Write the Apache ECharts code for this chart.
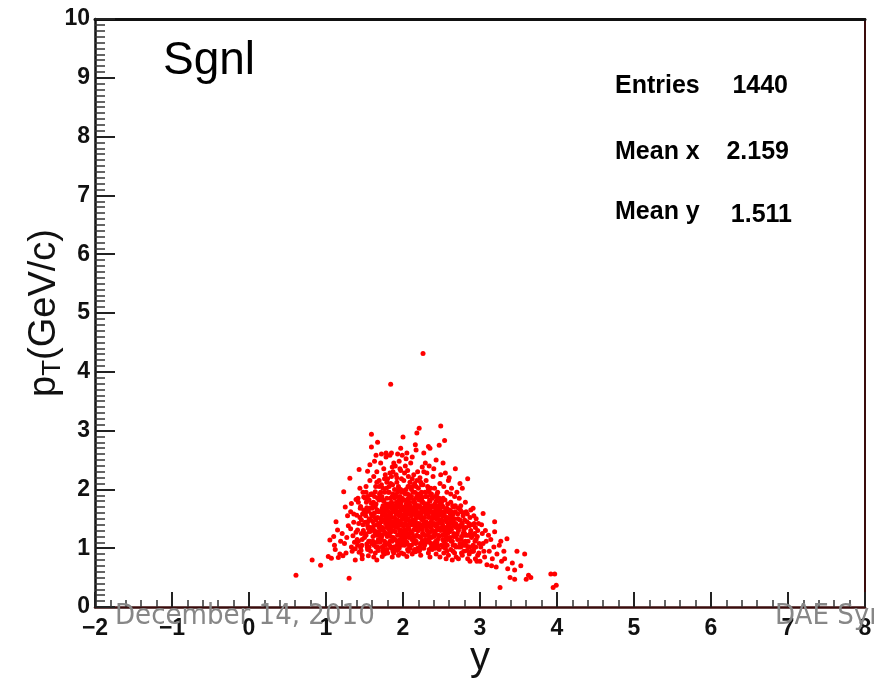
<!DOCTYPE html>
<html>
<head>
<meta charset="utf-8">
<script src="https://cdn.jsdelivr.net/npm/echarts@6/dist/echarts.min.js"></script>
<style>html,body{margin:0;padding:0;background:#fff;}#c{width:874px;height:682px;}</style>
</head>
<body>
<div id="c"></div>
<script>
// Axis ranges / ticks
const xRange = [-2, 8];
const yRange = [0, 10];
// Stats box
const statLabels = ['Entries', 'Mean x', 'Mean y'];
const statValues = ['1440', '2.159', '1.511'];
const histTitle = 'Sgnl';
const footerLeft = 'December 14, 2010';
const footerRight = 'DAE Sym';

// Scatter points [y, pT], grouped by rapidity region
const ptsTails = [
  [0.61,0.54],[0.82,0.80],[0.93,0.71],
  [1.05,1.14],[1.10,1.20],[1.07,0.83],[1.03,0.86],
  [1.12,0.98],[1.15,1.31],[1.18,0.90],[1.13,1.45],[1.19,1.12],[1.16,0.84],[1.11,1.05],
  [3.26,0.33],[3.22,0.90],[3.25,1.05],[3.28,0.78],[3.21,0.68],[3.27,1.12],
  [3.35,1.16],[3.39,0.50],[3.32,0.82],[3.36,0.65],[3.31,0.95],
  [3.45,0.63],[3.45,0.47],[3.48,0.95],[3.42,0.75],
  [3.58,0.90],[3.63,0.54],[3.66,0.50],[3.60,0.47],[3.53,0.70],
  [3.92,0.56],[3.97,0.56],[3.95,0.33],[3.99,0.37]
];
const ptsLeft = [
  [1.23,1.96],[1.21,1.25],[1.26,0.92],[1.28,1.55],[1.24,1.08],[1.29,1.38],[1.22,0.87],[1.27,1.18],[1.25,1.70],[1.30,0.49],
  [1.31,2.19],[1.33,1.02],[1.36,1.44],[1.38,0.80],[1.32,1.62],[1.35,1.21],[1.39,1.83],[1.34,0.95],[1.37,1.10],[1.36,1.58],[1.32,1.33],[1.39,1.27],[1.38,0.99],[1.33,1.76],
  [1.43,2.34],[1.41,1.05],[1.44,1.52],[1.47,0.88],[1.42,1.78],[1.46,1.25],[1.49,1.65],[1.45,1.01],[1.48,1.40],[1.41,1.31],[1.44,2.02],[1.47,1.15],[1.43,0.93],[1.49,1.87],[1.46,1.48],[1.42,1.12],[1.48,1.95],[1.45,1.71],[1.40,1.56],[1.47,0.82],
  [1.59,2.94],[1.59,2.72],[1.52,1.22],[1.55,1.63],[1.58,0.95],[1.51,1.85],[1.54,1.38],[1.57,2.15],[1.53,1.07],[1.56,1.50],[1.59,1.76],[1.52,1.95],[1.55,0.87],[1.58,1.29],[1.51,1.44],[1.54,2.31],[1.57,1.12],[1.53,1.69],[1.56,1.02],[1.59,1.58],[1.52,2.05],[1.55,1.34],[1.58,1.91],[1.50,1.18],[1.54,0.98],[1.57,2.42],[1.56,1.82],
  [1.67,2.80],[1.61,1.45],[1.63,1.88],[1.66,1.10],[1.68,1.62],[1.62,2.22],[1.64,0.92],[1.69,1.35],[1.65,1.75],[1.61,1.20],[1.63,2.48],[1.67,1.52],[1.69,2.05],[1.62,0.85],[1.66,1.40],[1.64,1.96],[1.68,1.15],[1.60,1.68],[1.65,2.58],[1.67,1.02],[1.63,1.30],[1.69,1.82],[1.61,1.58],[1.66,2.30],[1.64,1.25],[1.68,0.96],[1.62,1.72],[1.65,1.48],[1.69,2.15],[1.60,1.92],[1.66,0.80],[1.63,1.60],
  [1.72,2.60],[1.71,1.30],[1.74,1.72],[1.77,1.05],[1.79,2.12],[1.73,1.55],[1.76,0.90],[1.78,1.42],[1.70,1.88],[1.75,2.35],[1.72,1.18],[1.77,1.65],[1.79,0.98],[1.74,2.02],[1.71,1.50],[1.76,1.28],[1.78,2.55],[1.73,0.86],[1.75,1.80],[1.70,1.10],[1.77,2.25],[1.72,1.62],[1.79,1.35],[1.74,1.00],[1.76,1.95],[1.71,2.45],[1.78,1.75],[1.73,1.22],[1.75,1.48],[1.70,1.38],[1.77,1.58],[1.79,1.85],[1.72,2.08],[1.74,0.94],[1.76,1.12],[1.78,2.62],[1.73,1.68]
];
const ptsCenter = [
  [1.84,3.79],[1.83,2.58],[1.81,1.25],[1.85,1.68],[1.88,1.02],[1.82,2.05],[1.86,1.45],[1.89,1.85],[1.80,0.92],[1.84,1.58],[1.87,2.30],[1.83,1.12],[1.85,2.62],[1.88,1.38],[1.81,1.75],[1.86,0.85],[1.89,1.52],[1.82,1.95],[1.84,1.20],[1.87,1.65],[1.80,2.18],[1.85,1.00],[1.88,2.45],[1.83,1.42],[1.86,1.88],[1.81,1.55],[1.89,1.15],[1.84,2.10],[1.87,0.95],[1.82,1.32],[1.85,1.78],[1.88,1.62],[1.80,1.48],[1.86,2.38],[1.83,1.70],[1.89,2.00],[1.81,1.08],[1.84,1.35],[1.87,1.92],[1.85,2.22],
  [1.99,2.58],[1.93,2.60],[1.91,1.35],[1.94,1.78],[1.97,1.08],[1.92,2.12],[1.95,1.55],[1.98,0.92],[1.90,1.68],[1.96,2.35],[1.93,1.22],[1.99,1.85],[1.91,0.98],[1.94,1.45],[1.97,2.00],[1.92,1.62],[1.95,2.48],[1.98,1.30],[1.90,1.90],[1.96,1.15],[1.93,1.72],[1.99,1.50],[1.91,2.25],[1.94,0.88],[1.97,1.40],[1.92,1.05],[1.95,1.82],[1.98,2.18],[1.90,1.28],[1.96,1.62],[1.93,1.95],[1.99,1.18],[1.91,1.58],[1.94,2.05],[1.97,1.75],[1.92,1.42],[1.95,1.00],[1.98,1.65],[1.90,2.40],[1.96,1.88],[1.93,1.48],[1.97,2.70],
  [2.00,2.89],[2.02,1.32],[2.05,1.75],[2.08,1.05],[2.01,2.15],[2.04,1.55],[2.07,0.95],[2.09,1.88],[2.03,1.42],[2.06,2.32],[2.00,1.65],[2.08,1.22],[2.02,1.98],[2.05,1.10],[2.07,1.62],[2.04,2.52],[2.09,1.45],[2.01,0.90],[2.06,1.80],[2.03,1.18],[2.08,2.05],[2.00,1.38],[2.05,1.58],[2.07,2.22],[2.02,1.70],[2.09,1.00],[2.04,1.30],[2.06,1.92],[2.01,1.50],[2.08,1.68],[2.03,2.40],[2.05,0.86],[2.07,1.35],[2.00,1.82],[2.09,2.12],[2.02,1.15],[2.06,1.48],[2.04,2.00],[2.08,1.78],[2.01,1.25],[2.05,2.62],[2.03,1.60],
  [2.16,2.76],[2.17,2.67],[2.18,2.96],[2.11,1.40],[2.14,1.82],[2.17,1.12],[2.19,1.58],[2.12,2.18],[2.15,0.98],[2.18,1.70],[2.10,1.28],[2.13,1.95],[2.16,1.48],[2.19,2.30],[2.11,1.05],[2.14,1.62],[2.17,2.05],[2.12,0.90],[2.15,1.38],[2.18,1.88],[2.10,2.45],[2.13,1.18],[2.16,1.75],[2.19,1.00],[2.11,1.55],[2.14,2.25],[2.17,1.32],[2.12,1.68],[2.15,2.10],[2.18,1.22],[2.10,1.85],[2.13,1.45],[2.16,0.94],[2.19,1.92],[2.11,2.00],[2.14,1.10],[2.17,1.52],[2.12,2.55],[2.15,1.78],[2.18,1.42],
  [2.26,4.31],[2.21,3.04],[2.27,2.62],[2.22,1.35],[2.25,1.78],[2.28,1.05],[2.20,1.60],[2.23,2.12],[2.26,1.25],[2.29,1.88],[2.21,0.95],[2.24,1.50],[2.27,2.30],[2.22,1.70],[2.25,1.12],[2.28,1.42],[2.20,2.02],[2.23,0.88],[2.26,1.62],[2.29,2.45],[2.21,1.20],[2.24,1.95],[2.27,1.00],[2.22,2.20],[2.25,1.48],[2.28,1.75],[2.20,1.30],[2.23,1.58],[2.26,2.08],[2.29,1.15],[2.21,1.82],[2.24,1.38],[2.27,1.68],[2.22,0.98],[2.25,2.38],[2.28,1.52],[2.23,1.90],[2.26,1.08]
];
const ptsRight = [
  [2.33,2.73],[2.35,2.70],[2.31,1.30],[2.34,1.72],[2.37,1.02],[2.39,1.55],[2.32,2.05],[2.35,1.20],[2.38,1.85],[2.30,1.45],[2.33,0.92],[2.36,1.62],[2.39,2.22],[2.31,1.10],[2.34,1.95],[2.37,1.38],[2.32,1.75],[2.35,0.85],[2.38,1.50],[2.30,2.15],[2.33,1.28],[2.36,1.90],[2.39,1.05],[2.31,1.65],[2.34,2.40],[2.37,1.18],[2.32,1.42],[2.35,1.80],[2.38,0.98],[2.30,1.58],[2.33,2.00],[2.36,1.35],[2.39,1.70],[2.31,2.28],[2.34,1.12],[2.37,1.52],
  [2.49,3.08],[2.47,2.75],[2.43,2.50],[2.41,1.25],[2.44,1.65],[2.47,0.98],[2.49,1.45],[2.42,1.88],[2.45,1.15],[2.48,2.10],[2.40,1.52],[2.43,0.90],[2.46,1.72],[2.49,1.30],[2.41,2.02],[2.44,1.05],[2.47,1.58],[2.42,1.38],[2.45,1.95],[2.48,0.85],[2.40,1.20],[2.43,1.80],[2.46,1.42],[2.49,2.25],[2.41,1.62],[2.44,1.10],[2.47,1.85],[2.42,1.00],[2.45,1.35],[2.48,1.68],[2.40,2.35],[2.46,1.22],[2.43,1.50],
  [2.54,2.83],[2.52,2.45],[2.51,1.22],[2.54,1.62],[2.57,0.95],[2.59,1.40],[2.52,1.85],[2.55,1.08],[2.58,1.75],[2.50,1.35],[2.53,2.05],[2.56,1.18],[2.59,0.88],[2.51,1.55],[2.54,1.28],[2.57,1.95],[2.52,1.02],[2.55,1.48],[2.58,1.15],[2.50,1.78],[2.53,0.92],[2.56,1.65],[2.59,2.15],[2.51,1.42],[2.54,1.05],[2.57,1.32],[2.52,1.70],[2.55,2.28],[2.58,1.52],[2.56,0.82],
  [2.61,1.18],[2.64,1.55],[2.67,0.92],[2.69,1.35],[2.62,1.78],[2.65,1.05],[2.68,1.62],[2.60,1.42],[2.63,2.02],[2.66,1.25],[2.69,0.85],[2.61,1.65],[2.64,1.12],[2.67,1.88],[2.62,0.98],[2.65,1.45],[2.68,1.20],[2.60,2.20],[2.63,1.32],[2.66,1.70],[2.69,1.02],[2.61,1.50],[2.64,0.80],[2.67,1.38],[2.62,1.92],[2.65,1.58],[2.68,2.35],
  [2.77,2.02],[2.71,1.15],[2.74,1.48],[2.77,0.88],[2.79,1.30],[2.72,1.68],[2.75,1.02],[2.78,1.55],[2.70,1.38],[2.73,1.85],[2.76,1.20],[2.79,0.95],[2.71,1.58],[2.74,1.08],[2.77,1.42],[2.72,0.82],[2.75,1.72],[2.78,1.25],[2.70,1.95],[2.73,1.35],[2.76,1.62],[2.79,1.10],[2.74,2.10],
  [2.84,2.18],[2.81,1.12],[2.83,1.45],[2.86,0.90],[2.88,1.30],[2.82,1.62],[2.85,1.02],[2.87,1.52],[2.80,1.25],[2.84,0.82],[2.89,1.18],[2.81,1.78],[2.86,1.38],[2.83,0.96],[2.88,1.65],[2.85,1.22],[2.82,1.05],[2.87,0.78],[2.80,1.48],
  [2.91,1.05],[2.94,1.35],[2.97,0.88],[2.92,1.55],[2.95,1.15],[2.98,1.42],[2.90,0.95],[2.93,1.25],[2.96,0.78],[2.99,1.08],[2.91,1.68],[2.94,0.82],[2.97,1.30],[2.92,1.00],[2.95,1.50],
  [3.04,1.59],[3.01,1.02],[3.03,1.25],[3.06,0.85],[3.08,1.12],[3.02,1.40],[3.05,0.95],[3.07,1.30],[3.00,0.78],[3.09,0.72],[3.04,1.08],
  [3.19,1.45],[3.19,1.28],[3.12,0.95],[3.14,1.15],[3.16,0.82],[3.11,1.22],[3.18,1.02],[3.15,0.70]
];
const ptsCore = [
  [1.405,1.15],[1.425,1.42],[1.445,1.68],[1.465,1.05],[1.485,1.30],[1.415,1.85],[1.455,0.96],[1.475,1.58],
  [1.505,1.25],[1.515,1.55],[1.525,1.78],[1.535,1.02],[1.545,1.45],[1.555,1.12],[1.565,1.68],[1.575,1.35],[1.585,1.92],[1.595,1.08],[1.52,1.62],[1.54,1.88],[1.56,1.28],[1.58,1.48],
  [1.605,1.32],[1.615,1.78],[1.625,1.05],[1.635,1.52],[1.645,2.05],[1.655,1.22],[1.665,1.65],[1.675,0.98],[1.685,1.42],[1.695,1.92],[1.61,1.12],[1.62,1.38],[1.64,1.70],[1.65,1.02],[1.67,1.85],[1.68,1.28],[1.60,1.55],[1.66,2.12],
  [1.705,1.62],[1.715,1.15],[1.725,1.88],[1.735,1.35],[1.745,1.58],[1.755,1.05],[1.765,1.72],[1.775,1.42],[1.785,2.02],[1.795,1.20],[1.71,1.95],[1.72,1.45],[1.73,1.02],[1.74,1.32],[1.75,1.65],[1.76,2.18],[1.77,1.25],[1.78,1.52],[1.79,1.68],[1.70,1.22],[1.74,1.82],[1.78,0.95],
  [1.805,1.38],[1.815,1.62],[1.825,1.05],[1.835,1.85],[1.845,1.28],[1.855,1.52],[1.865,2.08],[1.875,1.18],[1.885,1.72],[1.895,1.42],[1.81,1.95],[1.82,1.22],[1.83,1.55],[1.84,1.02],[1.85,1.40],[1.86,1.75],[1.87,1.30],[1.88,1.88],[1.89,1.62],[1.80,1.70],[1.83,2.28],[1.86,1.12],[1.88,0.92],[1.82,1.48],
  [1.905,1.48],[1.915,1.78],[1.925,1.12],[1.935,1.58],[1.945,2.02],[1.955,1.32],[1.965,1.72],[1.975,1.22],[1.985,1.95],[1.995,1.42],[1.91,1.65],[1.92,1.88],[1.93,1.38],[1.94,1.10],[1.95,1.70],[1.96,1.45],[1.97,1.58],[1.98,1.05],[1.99,1.68],[1.90,1.15],[1.92,2.20],[1.94,1.62],[1.96,1.28],[1.98,1.80],[1.93,0.96],[1.97,2.32],
  [2.005,1.55],[2.015,1.22],[2.025,1.82],[2.035,1.08],[2.045,1.65],[2.055,1.40],[2.065,2.05],[2.075,1.18],[2.085,1.58],[2.095,1.72],[2.01,1.38],[2.02,1.05],[2.03,1.92],[2.04,1.48],[2.05,1.25],[2.06,1.68],[2.07,1.50],[2.08,1.32],[2.09,1.62],[2.00,1.12],[2.02,2.28],[2.04,1.75],[2.06,0.98],[2.08,1.90],[2.03,1.55],[2.07,1.85],
  [2.105,1.62],[2.115,1.15],[2.125,1.48],[2.135,1.78],[2.145,1.32],[2.155,1.95],[2.165,1.08],[2.175,1.65],[2.185,1.38],[2.195,1.72],[2.11,1.88],[2.12,1.25],[2.13,1.58],[2.14,1.42],[2.15,1.70],[2.16,1.20],[2.17,1.85],[2.18,1.55],[2.19,1.30],[2.10,1.45],[2.12,2.05],[2.14,0.95],[2.16,1.62],[2.18,2.15],[2.15,1.12],
  [2.205,1.42],[2.215,1.72],[2.225,1.08],[2.235,1.55],[2.245,1.85],[2.255,1.25],[2.265,1.68],[2.275,1.38],[2.285,1.95],[2.295,1.60],[2.21,1.52],[2.22,1.82],[2.23,1.18],[2.24,1.65],[2.25,1.32],[2.26,1.78],[2.27,1.45],[2.28,1.22],[2.29,1.70],[2.20,1.88],[2.22,1.02],[2.24,2.08],[2.26,1.40],[2.28,1.62],
  [2.305,1.35],[2.315,1.68],[2.325,1.15],[2.335,1.52],[2.345,1.82],[2.355,1.28],[2.365,1.45],[2.375,1.72],[2.385,1.20],[2.395,1.62],[2.31,1.88],[2.32,1.22],[2.33,1.58],[2.34,1.38],[2.35,1.65],[2.36,1.08],[2.37,1.92],[2.38,1.42],[2.39,1.30],[2.30,1.75],[2.34,0.98],[2.36,2.02],
  [2.405,1.42],[2.415,1.75],[2.425,1.12],[2.435,1.58],[2.445,1.32],[2.455,1.85],[2.465,1.20],[2.475,1.48],[2.485,1.62],[2.495,1.05],[2.41,1.52],[2.42,1.28],[2.43,1.68],[2.44,1.42],[2.45,1.02],[2.46,1.55],[2.47,1.32],[2.48,1.78],[2.40,1.08],[2.44,1.92],
  [2.505,1.48],[2.515,1.15],[2.525,1.62],[2.535,1.32],[2.545,1.82],[2.555,1.22],[2.565,1.45],[2.575,1.05],[2.585,1.62],[2.595,1.28],[2.51,1.72],[2.52,1.38],[2.53,1.12],[2.54,1.55],[2.55,1.00],[2.56,1.35],[2.57,1.68],[2.58,1.25],
  [2.605,1.28],[2.615,1.58],[2.625,1.12],[2.635,1.42],[2.645,1.72],[2.655,1.20],[2.665,1.50],[2.675,1.05],[2.685,1.42],[2.695,1.22],[2.61,1.35],[2.63,1.62],[2.65,0.95],[2.66,1.38],[2.68,1.72],[2.62,1.48],
  [2.705,1.25],[2.715,1.50],[2.725,1.02],[2.735,1.38],[2.745,1.65],[2.755,1.15],[2.765,1.42],[2.775,1.05],[2.785,1.35],[2.795,1.22],[2.72,1.30],[2.76,0.92],[2.78,1.60],
  [2.805,1.05],[2.815,1.35],[2.825,1.22],[2.835,1.58],[2.845,1.12],[2.855,1.42],[2.865,1.02],[2.875,1.25],[2.885,0.95],[2.895,1.40],
  [2.905,1.22],[2.915,0.95],[2.925,1.42],[2.935,1.12],[2.945,1.02],[2.965,1.20],[2.985,0.92]
];

const allPts = [].concat(ptsTails, ptsLeft, ptsCenter, ptsRight, ptsCore);

const chart = echarts.init(document.getElementById('c'), null, {renderer: 'canvas'});
const FONT = "'Liberation Sans', Arial, Helvetica, sans-serif";
const NARROW = "'Liberation Sans Narrow', 'DejaVu Sans Condensed', 'Liberation Sans', sans-serif";
const minus = v => (v < 0 ? '\u2212' + Math.abs(v) : String(v));

chart.setOption({
  animation: false,
  backgroundColor: '#ffffff',
  grid: {left: 95, right: 9, top: 19, bottom: 75, containLabel: false, outerBoundsMode: 'none'},
  xAxis: [{
    type: 'value', position: 'bottom', min: xRange[0], max: xRange[1], interval: 1,
    axisLine: {show: true, onZero: false, lineStyle: {color: '#3a0c0c', width: 2.5}},
    axisTick: {show: true, inside: true, length: 15, lineStyle: {color: '#222', width: 2}},
    minorTick: {show: true, splitNumber: 5, length: 7, lineStyle: {color: '#333', width: 1.5}},
    splitLine: {show: false}, minorSplitLine: {show: false},
    axisLabel: {color: '#111', fontFamily: FONT, fontWeight: 'bold', fontSize: 23, margin: 10, formatter: minus},
    name: 'y', nameLocation: 'middle', nameGap: 32, nameMoveOverlap: false,
    nameTextStyle: {color: '#111', fontFamily: FONT, fontSize: 40}
  }, {
    type: 'value', position: 'top', min: xRange[0], max: xRange[1],
    axisLine: {show: true, onZero: false, lineStyle: {color: '#111', width: 3}},
    axisTick: {show: false}, axisLabel: {show: false}, splitLine: {show: false}
  }],
  yAxis: [{
    type: 'value', position: 'left', min: yRange[0], max: yRange[1], interval: 1,
    axisLine: {show: true, onZero: false, lineStyle: {color: '#111', width: 2.5}},
    axisTick: {show: true, inside: true, length: 20, lineStyle: {color: '#222', width: 2}},
    minorTick: {show: true, splitNumber: 10, length: 10, lineStyle: {color: '#333', width: 1.5}},
    splitLine: {show: false}, minorSplitLine: {show: false},
    axisLabel: {color: '#111', fontFamily: FONT, fontWeight: 'bold', fontSize: 23, margin: 5},
    name: '{p|p}{t|T}{p|(GeV/c)}', nameLocation: 'middle', nameGap: 29, nameRotate: 90, nameMoveOverlap: false,
    nameTextStyle: {
      color: '#111', fontFamily: FONT, fontSize: 38,
      rich: {
        p: {fontSize: 38, fontFamily: FONT, color: '#111'},
        t: {fontSize: 26, fontFamily: FONT, color: '#111', verticalAlign: 'bottom', padding: [16, 0, 0, 0]}
      }
    }
  }, {
    type: 'value', position: 'right', min: yRange[0], max: yRange[1],
    axisLine: {show: true, onZero: false, lineStyle: {color: '#3a0c0c', width: 2}},
    axisTick: {show: false}, axisLabel: {show: false}, splitLine: {show: false}
  }],
  series: [{
    type: 'scatter', xAxisIndex: 0, yAxisIndex: 0, data: allPts,
    symbol: 'circle', symbolSize: 5, silent: true,
    itemStyle: {color: '#ff0000', opacity: 1}
  }],
  graphic: [
    {type: 'text', left: 163, top: 38, style: {text: histTitle, fontFamily: FONT, fontSize: 46, fill: '#000'}},
    {type: 'text', x: 615, y: 86, style: {text: statLabels[0], fontFamily: FONT, fontWeight: 'bold', fontSize: 25, fill: '#000', verticalAlign: 'middle', align: 'left'}},
    {type: 'text', x: 615, y: 152, style: {text: statLabels[1], fontFamily: FONT, fontWeight: 'bold', fontSize: 25, fill: '#000', verticalAlign: 'middle', align: 'left'}},
    {type: 'text', x: 615, y: 212, style: {text: statLabels[2], fontFamily: FONT, fontWeight: 'bold', fontSize: 25, fill: '#000', verticalAlign: 'middle', align: 'left'}},
    {type: 'text', x: 788, y: 86, style: {text: statValues[0], fontFamily: FONT, fontWeight: 'bold', fontSize: 25, fill: '#000', verticalAlign: 'middle', align: 'right'}},
    {type: 'text', x: 789, y: 152, style: {text: statValues[1], fontFamily: FONT, fontWeight: 'bold', fontSize: 25, fill: '#000', verticalAlign: 'middle', align: 'right'}},
    {type: 'text', x: 792, y: 215, style: {text: statValues[2], fontFamily: FONT, fontWeight: 'bold', fontSize: 25, fill: '#000', verticalAlign: 'middle', align: 'right'}},
    {type: 'text', x: 115, y: 616, z: 100, style: {text: footerLeft, fontFamily: NARROW, fontSize: 29, fill: '#878787', verticalAlign: 'middle', align: 'left'}},
    {type: 'text', x: 775, y: 616, z: 100, style: {text: footerRight, fontFamily: NARROW, fontSize: 29, fill: '#878787', verticalAlign: 'middle', align: 'left'}}
  ]
});
</script>
</body>
</html>
